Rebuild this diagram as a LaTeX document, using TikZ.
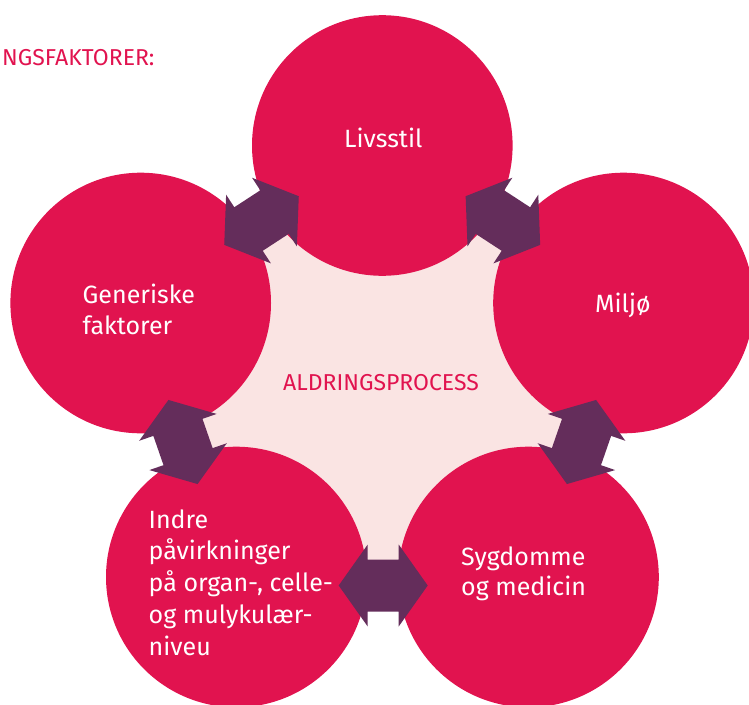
\documentclass[tikz,border=0pt]{standalone}
\usepackage{fontspec}
\setmainfont{Fira Sans}
\usetikzlibrary{calc}
\definecolor{crim}{HTML}{E1134F}
\definecolor{plum}{HTML}{642D5B}
\definecolor{blush}{HTML}{FAE4E3}
\newcommand\dblarr[2]{%
  \fill[plum, shift={(#1)}, rotate=#2]
    (44.5,0) -- (15.5,41) -- (15.5,26) -- (-15.5,26) -- (-15.5,41) --
    (-44.5,0) -- (-15.5,-41) -- (-15.5,-26) -- (15.5,-26) -- (15.5,-41) -- cycle;}
\begin{document}
\begin{tikzpicture}[x=1pt,y=-1pt,
  circ/.style={circle, fill=crim, minimum size=260.6pt, inner sep=0pt},
  lbl/.style={text=white, font=\fontsize{25}{31}\selectfont, inner sep=0pt, align=left},
  head/.style={text=crim, font=\fontsize{23}{27}\selectfont, inner sep=0pt}]
\useasboundingbox (0,0) rectangle (749,704);
\clip (0,0) rectangle (749,704);
% circle centres
\coordinate (cT) at (382.3,145.5);
\coordinate (cL) at (140.7,303);
\coordinate (cR) at (623.5,303);
\coordinate (cBL) at (236.3,577);
\coordinate (cBR) at (528.5,577);
% background pentagon
\fill[blush] (cT) -- (cR) -- (cBR) -- (cBL) -- (cL) -- cycle;
% circles
\node[circ] (top) at (cT) {};
\node[circ] (left) at (cL) {};
\node[circ] (right) at (cR) {};
\node[circ] (bl) at (cBL) {};
\node[circ] (br) at (cBR) {};
% double arrows between neighbours
\coordinate (aTL) at ($(top.center)!0.5!(left.center)+(0,-3.7)$);
\coordinate (aTR) at ($(top.center)!0.5!(right.center)+(0,-3.7)$);
\coordinate (aLB) at ($(left.center)!0.5!(bl.center)+(-5.5,2)$);
\coordinate (aRB) at ($(right.center)!0.5!(br.center)+(5.5,2)$);
\coordinate (aB) at ($(bl.center)!0.5!(br.center)+(0.8,8.5)$);
\dblarr{aTL}{33.13}
\dblarr{aTR}{-33.13}
\dblarr{aLB}{-70.88}
\dblarr{aRB}{70.88}
\dblarr{aB}{0}
% texts (base anchor = baseline of the last line)
\node[head, anchor=base west] (title) at (2,65) {NGSFAKTORER:};
\node[head, anchor=base] (center) at (381,390) {ALDRINGSPROCESS};
\node[lbl, anchor=base] (tLiv) at (383.3,147.7) {Livsstil};
\node[lbl, anchor=base west] (tGen) at (82.5,334.3) {Generiske\\faktorer};
\node[lbl, anchor=base west] (tMil) at (595,312.7) {Miljø};
\node[lbl, anchor=base west, font=\fontsize{25}{31.7}\selectfont] (tInd) at (148.5,655) {Indre\\påvirkninger\\på organ-, celle-\\og mulykulær-\\niveu};
\node[lbl, anchor=base west, font=\fontsize{25}{30.5}\selectfont] (tSyg) at (461,595.5) {Sygdomme\\og medicin};
\end{tikzpicture}
\end{document}
